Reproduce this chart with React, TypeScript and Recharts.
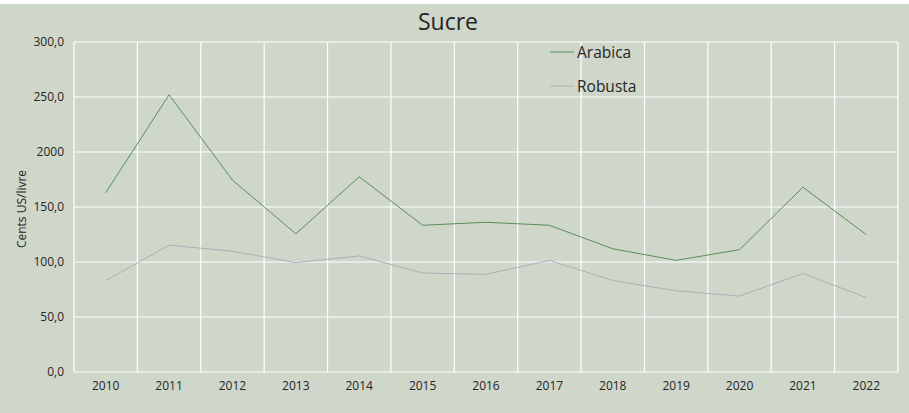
import React from "react";
import { LineChart, Line, XAxis, YAxis, CartesianGrid, Legend } from "recharts";

const years = ["2010", "2011", "2012", "2013", "2014", "2015", "2016", "2017", "2018", "2019", "2020", "2021", "2022"];
const arabica = [162.9, 252.0, 174.5, 125.6, 177.5, 133.4, 136.1, 133.4, 112.0, 101.5, 111.2, 168.0, 124.9];
const robusta = [83.1, 115.3, 109.8, 99.5, 105.5, 90.0, 88.7, 101.5, 83.2, 73.8, 69.0, 89.6, 67.7];
const yTicks = [0, 50, 100, 150, 200, 250, 300];
const yTickLabels = ["0,0", "50,0", "100,0", "150,0", "2000", "250,0", "300,0"];
const title = "Sucre";
const yLabel = "Cents US/livre";

const data = years.map((y, i) => ({ x: i, year: y, Arabica: arabica[i], Robusta: robusta[i] }));
const xTicks = years.map((_, i) => i);
const boundaries = [...years.map((_, i) => i - 0.5), years.length - 0.5];

const FONT = "'Open Sans', sans-serif";
const BG = "#cfd6ca";
const TEXT = "#262626";

const renderLegend = (props: any) => {
  const payload = props.payload || [];
  return (
    <div style={{ fontFamily: FONT }}>
      {payload.map((e: any) => (
        <div key={e.value} style={{ display: "flex", alignItems: "center", height: 34 }}>
          <svg width={24} height={4} style={{ display: "block" }}>
            <line x1={0} y1={2} x2={24} y2={2} stroke={e.color} strokeWidth={1} />
          </svg>
          <span style={{ marginLeft: 3, fontSize: 15.5, color: TEXT }}>{e.value}</span>
        </div>
      ))}
    </div>
  );
};

const renderYLabel = (props: any) => {
  const vb = props.viewBox || { x: 0, y: 0, width: 0, height: 0 };
  const cx = vb.x + 21;
  const cy = vb.y + vb.height / 2 + 2;
  return (
    <text
      x={cx}
      y={cy}
      transform={`rotate(-90 ${cx} ${cy})`}
      textAnchor="middle"
      dominantBaseline="central"
      fontFamily={FONT}
      fontSize={12}
      fill={TEXT}
    >
      {yLabel}
    </text>
  );
};

export default function App() {
  return (
    <div style={{ position: "absolute", top: 0, left: 0, width: 909, height: 413, background: "#ffffff", overflow: "hidden" }}>
      <div style={{ position: "absolute", top: 4, left: 0, width: 909, height: 409, background: BG }} />
      <div
        style={{
          position: "absolute",
          top: 4,
          left: 0,
          width: 896,
          textAlign: "center",
          fontFamily: FONT,
          fontSize: 23,
          lineHeight: "34px",
          color: TEXT,
        }}
      >
        {title}
      </div>
      <div style={{ position: "absolute", top: 0, left: 0 }}>
        <LineChart width={909} height={413} data={data} margin={{ top: 42, right: 11, bottom: 11, left: 0 }}>
          <CartesianGrid stroke="#ffffff" strokeWidth={1.2} verticalValues={boundaries} />
          <XAxis
            dataKey="x"
            type="number"
            domain={[-0.5, years.length - 0.5]}
            ticks={xTicks}
            interval={0}
            tickFormatter={(v: number) => years[v]}
            axisLine={false}
            tickLine={false}
            tickSize={0}
            tickMargin={9}
            height={30}
            tick={{ fontFamily: FONT, fontSize: 12, fill: TEXT }}
          />
          <YAxis
            type="number"
            domain={[0, 300]}
            ticks={yTicks}
            interval={0}
            tickFormatter={(v: number) => yTickLabels[yTicks.indexOf(v)]}
            axisLine={false}
            tickLine={false}
            tickSize={0}
            tickMargin={10}
            width={74}
            tick={{ fontFamily: FONT, fontSize: 12, fill: TEXT }}
            label={{ content: renderYLabel } as any}
          />
          <Legend
            layout="vertical"
            align="center"
            verticalAlign="middle"
            content={renderLegend}
            wrapperStyle={{ left: 550, top: 35, width: 120, height: 68 }}
          />
          <Line type="linear" dataKey="Arabica" stroke="#5a8f5a" strokeWidth={1} dot={false} isAnimationActive={false} />
          <Line type="linear" dataKey="Robusta" stroke="#aeb0b8" strokeWidth={1} dot={false} isAnimationActive={false} />
        </LineChart>
      </div>
    </div>
  );
}
